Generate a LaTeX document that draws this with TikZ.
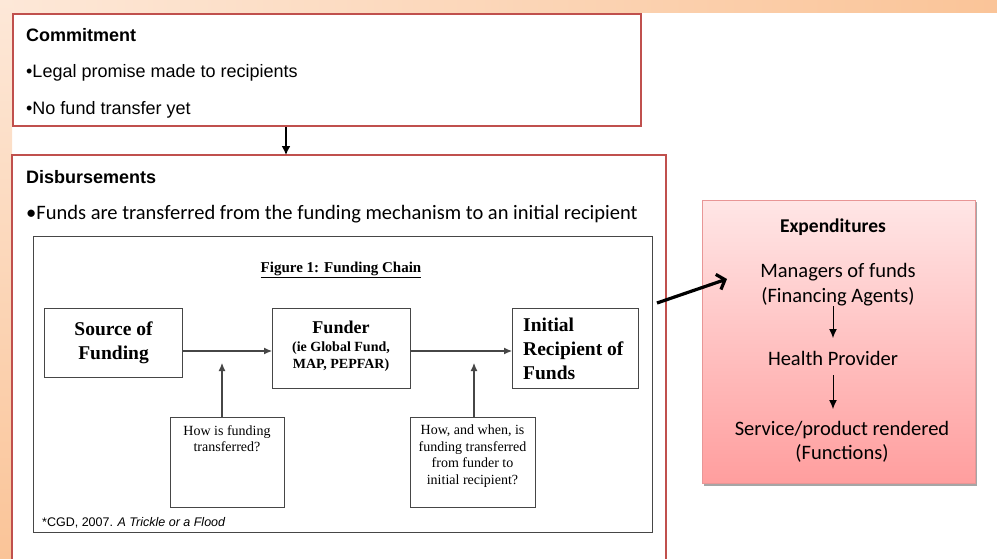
\documentclass[tikz,border=0pt]{standalone}
\usepackage{fontspec}
\setmainfont{Liberation Serif}
\setsansfont{Liberation Sans}
\newfontfamily\calibri{Carlito}
\usetikzlibrary{arrows.meta}

\definecolor{boxred}{RGB}{192,80,77}
\definecolor{peachlight}{RGB}{253,232,216}
\definecolor{peachdark}{RGB}{250,196,152}
\definecolor{pinktop}{RGB}{255,230,230}
\definecolor{pinkbot}{RGB}{255,158,158}
\definecolor{pinkline}{RGB}{232,150,150}
\definecolor{chainline}{RGB}{70,70,70}

\newcommand{\fsz}[2]{\fontsize{#1}{#2}\selectfont}

\begin{document}
\begin{tikzpicture}[x=1pt,y=-1pt,
  redbox/.style={draw=boxred,line width=2pt,fill=white},
  chainbox/.style={draw=chainline,line width=1.1pt,fill=white,inner sep=0pt},
  flow/.style={draw=chainline,line width=1.1pt,-{Latex[length=8pt,width=7pt]}},
  expflow/.style={draw=black,line width=1pt,-{Latex[length=9pt,width=8pt]}},
  label/.style={anchor=base west,inner sep=0pt},
  asktext/.style={anchor=north,inner sep=0pt,align=center,font=\fsz{14}{16.5}},
  exptext/.style={anchor=base,inner sep=0pt,font=\calibri\fsz{20.5}{24}}]
\useasboundingbox (0,0) rectangle (997,558);
% Background strips
\shade[left color=peachlight,right color=peachdark] (0,0) rectangle (997,12);
\shade[top color=peachlight,bottom color=peachdark] (0,0) rectangle (12,558);
% Commitment
\node[redbox,anchor=north west,minimum width=628,minimum height=112] (commit) at (12,13) {};
\node[label,font=\sffamily\bfseries\fsz{18}{22}] (committitle) at (26,41) {Commitment};
\node[label,font=\sffamily\fsz{18}{22}] (commitone) at (26,77) {•Legal promise made to recipients};
\node[label,font=\sffamily\fsz{18}{22}] (committwo) at (26,114) {•No fund transfer yet};
% Disbursements (runs off the bottom)
\path[draw=boxred,line width=2pt,fill=white] (12,570) -- (12,155) -- (666,155) -- (666,570);
\coordinate (disbtop) at (286,155);
\coordinate (committail) at (286,127);
\draw[line width=1.6pt,-{Latex[length=9pt,width=9pt]}] (committail) -- (disbtop);
\node[label,font=\sffamily\bfseries\fsz{18}{22}] (disbtitle) at (26,183) {Disbursements};
\node[label,font=\calibri\fsz{20.5}{24}] (disbone) at (26,219) {•Funds are transferred from the funding mechanism to an initial recipient};
% Figure 1
\node[draw=chainline,line width=1pt,anchor=north west,minimum width=619,minimum height=296] (figure) at (33,236) {};
\node[anchor=base,inner sep=0pt,font=\bfseries\fsz{15}{18}] (figtitle) at (341,272) {\underline{Figure 1: Funding Chain}};
\node[chainbox,anchor=north west,minimum width=138,minimum height=69,align=center,font=\bfseries\fsz{19.5}{24}] (source) at (44,308) {Source of\\Funding};
\node[chainbox,anchor=north west,minimum width=138,minimum height=80] (funder) at (272,308) {};
\node[anchor=base,inner sep=0pt,font=\bfseries\fsz{18}{20}] (fundertitle) at (341,333) {Funder};
\node[anchor=north,inner sep=0pt,align=center,font=\bfseries\fsz{14}{17}] (funderlist) at (341,342) {(ie Global Fund,\\MAP, PEPFAR)};
\node[chainbox,anchor=north west,minimum width=126,minimum height=80] (initial) at (512,308) {};
\node[anchor=north west,inner sep=0pt,align=left,font=\bfseries\fsz{19.5}{24}] (initialtext) at (523,318) {Initial\\Recipient of\\Funds};
\coordinate (chainy) at (0,351);
\path[flow] (source.east |- chainy) -- (funder.west |- chainy);
\path[flow] (funder.east |- chainy) -- (initial.west |- chainy);
\node[chainbox,anchor=north west,minimum width=114,minimum height=90] (askhow) at (170,417) {};
\node[asktext] (askhowtext) at (227,425) {How is funding\\transferred?};
\node[chainbox,anchor=north west,minimum width=125,minimum height=90] (askwhen) at (410,417) {};
\node[asktext] (askwhentext) at (472.5,425) {How, and when, is\\funding transferred\\from funder to\\initial recipient?};
\coordinate (askhowtip) at (222,363);
\coordinate (askwhentip) at (474,363);
\path[flow] (askhow.north -| askhowtip) -- (askhowtip);
\path[flow] (askwhen.north -| askwhentip) -- (askwhentip);
\node[label,font=\sffamily\fsz{12.5}{15}] (cite) at (42,526) {*CGD, 2007. \textit{A Trickle or a Flood}};
% Expenditures
\fill[gray!70] (704,202) rectangle (977,486);
\shade[top color=pinktop,bottom color=pinkbot,draw=pinkline,line width=1pt] (702,200) rectangle (975,483);
\node[anchor=base,inner sep=0pt,font=\calibri\bfseries\fsz{19.5}{22}] (exptitle) at (833,232) {Expenditures};
\node[exptext] (managers) at (838,277) {Managers of funds};
\node[exptext] (agents) at (838,302) {(Financing Agents)};
\node[exptext] (provider) at (833,365) {Health Provider};
\node[exptext] (service) at (842,435) {Service/product rendered};
\node[exptext] (functions) at (842,459) {(Functions)};
\coordinate (agentsout) at (833,306);
\coordinate (providerin) at (833,338);
\coordinate (providerout) at (833,375);
\coordinate (servicein) at (833,409);
\path[expflow] (agentsout) -- (providerin);
\path[expflow] (providerout) -- (servicein);
% Into expenditures
\coordinate (disbout) at (657,303);
\coordinate (expin) at (727,279);
\draw[line width=3.2pt,-{Straight Barb[length=7pt,width=16pt]}] (disbout) -- (expin);
\end{tikzpicture}
\end{document}
